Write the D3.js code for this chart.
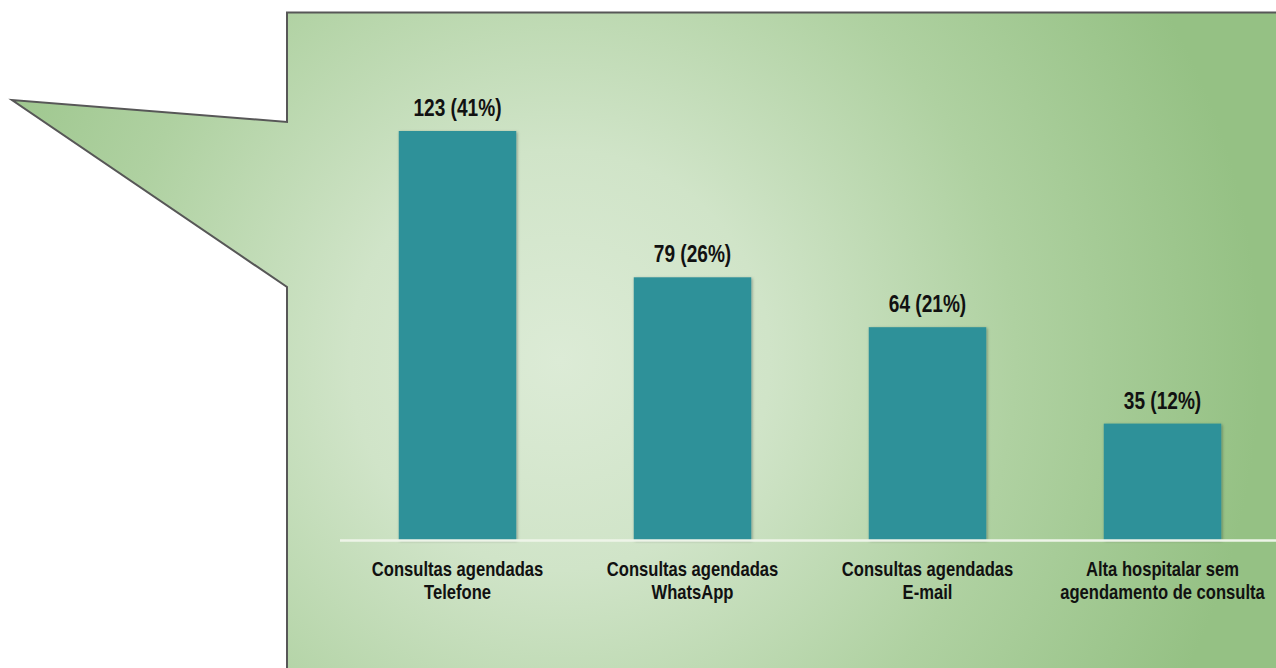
<!DOCTYPE html>
<html>
<head>
<meta charset="utf-8">
<script src="https://cdn.jsdelivr.net/npm/d3@7"></script>
<style>
  body { margin: 0; background: #fff; }
  svg { display: block; }
  .value { font-family: "Liberation Sans", Arial, sans-serif; font-weight: bold; font-size: 23px; fill: #111; }
  .cat { font-family: "Liberation Sans", Arial, sans-serif; font-weight: bold; font-size: 20px; fill: #111; }
</style>
</head>
<body>
<div id="chart"></div>
<script>
// data
var categories = [
  ["Consultas agendadas", "Telefone"],
  ["Consultas agendadas", "WhatsApp"],
  ["Consultas agendadas", "E-mail"],
  ["Alta hospitalar sem", "agendamento de consulta"]
];
var values = [123, 79, 64, 35];
var percents = ["41%", "26%", "21%", "12%"];

function drawChart() {
  var w = 1276;
  var h = 668;
  var narrow = 0.83; // squeeze text like a narrow font

  var svg = d3.select("#chart")
    .append("svg")
    .attr("width", w)
    .attr("height", h);

  var defs = svg.append("defs");

  //background gradient
  var grad = defs.append("radialGradient")
    .attr("id", "bg")
    .attr("gradientUnits", "userSpaceOnUse")
    .attr("cx", 560)
    .attr("cy", 360)
    .attr("r", 700);
  grad.append("stop").attr("offset", "0").attr("stop-color", "#dcebd6");
  grad.append("stop").attr("offset", "0.3").attr("stop-color", "#d0e4c8");
  grad.append("stop").attr("offset", "0.65").attr("stop-color", "#afd1a1");
  grad.append("stop").attr("offset", "1").attr("stop-color", "#95c184");

  // bar shadow
  var shadow = defs.append("filter")
    .attr("id", "shadow")
    .attr("x", "-10%").attr("y", "-10%")
    .attr("width", "120%").attr("height", "120%");
  shadow.append("feDropShadow")
    .attr("dx", 1).attr("dy", 1)
    .attr("stdDeviation", 1.5)
    .attr("flood-color", "#000")
    .attr("flood-opacity", 0.35);

  // callout shape
  var callout = [[287, 12.5], [1280, 12.5], [1280, 672], [287, 672], [287, 287], [12, 100], [287, 122]];
  svg.append("path")
    .attr("d", d3.line()(callout) + "Z")
    .attr("fill", "url(#bg)")
    .attr("stroke", "#575757")
    .attr("stroke-width", 2);

  //Set up Scales
  var xScale = d3.scaleBand()
    .domain(d3.range(values.length))
    .range([340, 1280])
    .paddingInner(0.5)
    .paddingOuter(0.25);

  var yScale = d3.scaleLinear()
    .domain([0, 123])
    .range([540, 131]);

  // bars
  svg.selectAll("rect.bar")
    .data(values)
    .enter()
    .append("rect")
    .attr("class", "bar")
    .attr("x", function (d, i) { return xScale(i); })
    .attr("y", function (d) { return yScale(d); })
    .attr("width", xScale.bandwidth())
    .attr("height", function (d) { return yScale(0) - yScale(d); })
    .attr("fill", "#2e9199")
    .attr("filter", "url(#shadow)");

  // baseline
  svg.append("line")
    .attr("x1", 340)
    .attr("x2", w)
    .attr("y1", yScale(0) + 0.5)
    .attr("y2", yScale(0) + 0.5)
    .attr("stroke", "#eef4e8")
    .attr("stroke-width", 2.5);

  // value labels
  svg.selectAll("text.value")
    .data(values)
    .enter()
    .append("text")
    .attr("class", "value")
    .attr("transform", function (d, i) {
      return "translate(" + (xScale(i) + xScale.bandwidth() / 2) + "," + (yScale(d) - 15) + ") scale(" + narrow + ",1)";
    })
    .attr("text-anchor", "middle")
    .text(function (d, i) { return d + " (" + percents[i] + ")"; });

  // category labels
  var cats = svg.selectAll("text.cat")
    .data(categories)
    .enter()
    .append("text")
    .attr("class", "cat")
    .attr("text-anchor", "middle")
    .attr("transform", function (d, i) {
      return "translate(" + (xScale(i) + xScale.bandwidth() / 2) + ",576) scale(" + narrow + ",1)";
    });

  cats.selectAll("tspan")
    .data(function (d) { return d; })
    .enter()
    .append("tspan")
    .attr("x", 0)
    .attr("dy", function (d, j) { return j === 0 ? 0 : 23; })
    .text(function (d) { return d; });
}

window.onload = function () {
  drawChart();
};
</script>
</body>
</html>
